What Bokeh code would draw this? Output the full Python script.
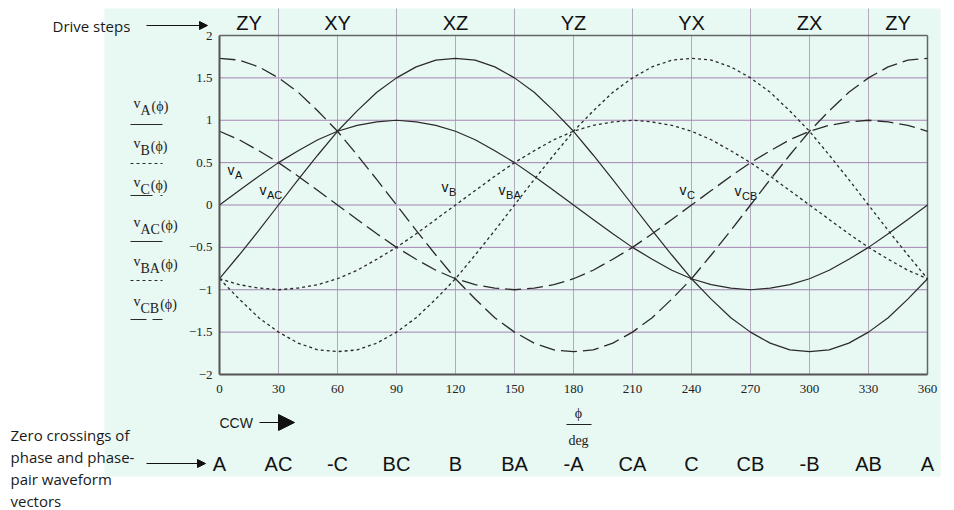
from bokeh.plotting import figure
from bokeh.models import (Range1d, LinearAxis, FixedTicker, Label, LabelSet,
                          ColumnDataSource, Arrow, NormalHead)
from bokeh.core.properties import value
from bokeh.embed import file_html
from bokeh.resources import INLINE

# electrical angle in degrees
phi_deg = list(range(0, 361, 10))

# phase voltages (normalised)
v_a = [0, 0.17, 0.34, 0.5, 0.64, 0.77, 0.87, 0.94, 0.98, 1, 0.98, 0.94, 0.87, 0.77, 0.64, 0.5,
       0.34, 0.17, 0, -0.17, -0.34, -0.5, -0.64, -0.77, -0.87, -0.94, -0.98, -1, -0.98, -0.94,
       -0.87, -0.77, -0.64, -0.5, -0.34, -0.17, 0]
v_b = [-0.87, -0.94, -0.98, -1, -0.98, -0.94, -0.87, -0.77, -0.64, -0.5, -0.34, -0.17, 0, 0.17,
       0.34, 0.5, 0.64, 0.77, 0.87, 0.94, 0.98, 1, 0.98, 0.94, 0.87, 0.77, 0.64, 0.5, 0.34, 0.17,
       0, -0.17, -0.34, -0.5, -0.64, -0.77, -0.87]
v_c = [0.87, 0.77, 0.64, 0.5, 0.34, 0.17, 0, -0.17, -0.34, -0.5, -0.64, -0.77, -0.87, -0.94,
       -0.98, -1, -0.98, -0.94, -0.87, -0.77, -0.64, -0.5, -0.34, -0.17, 0, 0.17, 0.34, 0.5, 0.64,
       0.77, 0.87, 0.94, 0.98, 1, 0.98, 0.94, 0.87]

# phase-pair (line-to-line) voltages
v_ac = [-0.87, -0.59, -0.30, 0, 0.30, 0.59, 0.87, 1.11, 1.33, 1.50, 1.63, 1.71, 1.73, 1.71, 1.63,
        1.50, 1.33, 1.11, 0.87, 0.59, 0.30, 0, -0.30, -0.59, -0.87, -1.11, -1.33, -1.50, -1.63,
        -1.71, -1.73, -1.71, -1.63, -1.50, -1.33, -1.11, -0.87]
v_ba = [-0.87, -1.11, -1.33, -1.50, -1.63, -1.71, -1.73, -1.71, -1.63, -1.50, -1.33, -1.11, -0.87,
        -0.59, -0.30, 0, 0.30, 0.59, 0.87, 1.11, 1.33, 1.50, 1.63, 1.71, 1.73, 1.71, 1.63, 1.50,
        1.33, 1.11, 0.87, 0.59, 0.30, 0, -0.30, -0.59, -0.87]
v_cb = [1.73, 1.71, 1.63, 1.50, 1.33, 1.11, 0.87, 0.59, 0.30, 0, -0.30, -0.59, -0.87, -1.11, -1.33,
        -1.50, -1.63, -1.71, -1.73, -1.71, -1.63, -1.50, -1.33, -1.11, -0.87, -0.59, -0.30, 0,
        0.30, 0.59, 0.87, 1.11, 1.33, 1.50, 1.63, 1.71, 1.73]

# drive steps (commutation band above the plot)
step_names = ["ZY", "XY", "XZ", "YZ", "YX", "ZX", "ZY"]
step_centers = [15, 60, 120, 180, 240, 300, 345]
step_edges = [30, 90, 150, 210, 270, 330]

# zero crossings of the phase and phase-pair vectors
crossing_deg = [0, 30, 60, 90, 120, 150, 180, 210, 240, 270, 300, 330, 360]
crossing_names = ["A", "AC", "-C", "BC", "B", "BA", "-A", "CA", "C", "CB", "-B", "AB", "A"]

# in-plot curve tags
tag_x = [4.1, 20.3, 112.9, 141.9, 233.9, 261.9]
tag_y = [0.41, 0.18, 0.21, 0.18, 0.18, 0.17]
tag_sub = ["A", "AC", "B", "BA", "C", "CB"]

x_ticks = [0, 30, 60, 90, 120, 150, 180, 210, 240, 270, 300, 330, 360]
y_ticks = [-2, -1.5, -1, -0.5, 0, 0.5, 1, 1.5, 2]
y_tick_labels = ["−2", "−1.5", "−1", "−0.5", "0", "0.5", "1", "1.5", "2"]
v_grid_x = [30, 60, 90, 120, 150, 180, 210, 240, 270, 300, 330]
h_grid_y = [-1.5, -1, -0.5, 0, 0.5, 1, 1.5]

TEAL = "#e8f8f2"
INK = "#2a2a2a"
HGRID = "#a585b2"
VGRID = "#b2a9bd"
BOX = "#666666"
SERIF = "Liberation Serif"
SANS = "Liberation Sans"
NOTE_FONT = "Open Sans"

W, H = 954, 510
# plot box in pixels: 0..360 deg spans x 219..927, -2..2 spans y 374..35
PX_DEG = (927 - 219) / 360
PX_UNIT = (374 - 35) / 4


def cx(px):
    return (px - 219) / PX_DEG


def cy(py):
    return 2 - (py - 35) / PX_UNIT


p = figure(width=W, height=H, x_range=Range1d(cx(0), cx(W)), y_range=Range1d(cy(H), cy(0)),
           output_backend="svg", toolbar_location=None, min_border=0,
           x_axis_location=None, y_axis_location=None,
           background_fill_color="white", border_fill_color="white", outline_line_color=None)
p.xgrid.visible = False
p.ygrid.visible = False

# pale panel behind the chart and its annotations
p.quad(left=cx(104), right=cx(940), top=cy(8), bottom=cy(476), fill_color=TEAL, line_color=None)

# grid and drive-step dividers
p.segment(x0=v_grid_x, y0=-2, x1=v_grid_x, y1=2, line_color=VGRID, line_width=1)
p.segment(x0=0, y0=h_grid_y, x1=360, y1=h_grid_y, line_color=HGRID, line_width=1)
p.segment(x0=step_edges, y0=2, x1=step_edges, y1=cy(8), line_color=VGRID, line_width=1)

# top and right edges of the plot box
p.segment(x0=[0, 360], y0=[2, 2], x1=[360, 360], y1=[2, -2], line_color=BOX, line_width=1.5)

# axes
xa = LinearAxis(fixed_location=-2, bounds=(0, 360), ticker=FixedTicker(ticks=x_ticks))
ya = LinearAxis(fixed_location=0, bounds=(-2, 2), ticker=FixedTicker(ticks=y_ticks))
ya.major_label_overrides = {float(t): s for t, s in zip(y_ticks, y_tick_labels)}
for ax in (xa, ya):
    ax.axis_line_color = "#555555"
    ax.axis_line_width = 2
    ax.major_tick_out = 0
    ax.major_tick_in = 0
    ax.minor_tick_out = 0
    ax.minor_tick_in = 0
    ax.major_label_text_font = SERIF
    ax.major_label_text_font_size = "13px"
    ax.major_label_text_color = "#222222"
xa.major_label_standoff = 10
ya.major_label_standoff = 7
p.add_layout(xa, "below")
p.add_layout(ya, "left")

# waveforms
p.line(phi_deg, v_a, line_color=INK, line_width=1.2)
p.line(phi_deg, v_b, line_color=INK, line_width=1.3, line_dash="3 3")
p.line(phi_deg, v_c, line_color=INK, line_width=1.3, line_dash="16 6")
p.line(phi_deg, v_ac, line_color=INK, line_width=1.2)
p.line(phi_deg, v_ba, line_color=INK, line_width=1.3, line_dash="3 3")
p.line(phi_deg, v_cb, line_color=INK, line_width=1.3, line_dash="16 6")

# curve tags
tags = ColumnDataSource(dict(x=tag_x, y=tag_y, v=["v"] * len(tag_sub), sub=tag_sub))
p.add_layout(LabelSet(x="x", y="y", text="v", source=tags, text_font=value(SANS),
                      text_font_size="14px", text_baseline="middle", text_align="left",
                      text_color="#111111"))
p.add_layout(LabelSet(x="x", y="y", text="sub", source=tags, x_offset=7.5, y_offset=-5,
                      text_font=value(SANS), text_font_size="11px", text_baseline="middle",
                      text_align="left", text_color="#111111"))

# drive-step band
steps = ColumnDataSource(dict(x=step_centers, name=step_names))
p.add_layout(LabelSet(x="x", y=cy(22), text="name", source=steps, text_font=value(SANS),
                      text_font_size="20px", text_align="center", text_baseline="middle",
                      text_color="#111111"))

# zero-crossing row
cross = ColumnDataSource(dict(x=crossing_deg, name=crossing_names))
p.add_layout(LabelSet(x="x", y=cy(463), text="name", source=cross, text_font=value(SANS),
                      text_font_size="20px", text_align="center", text_baseline="middle",
                      text_color="#111111"))


def px_text(x, y, text, font, size, align="left", baseline="middle", color="#1a1a1a"):
    p.add_layout(Label(x=cx(x), y=cy(y), text=text, text_font=font, text_font_size=size,
                       text_align=align, text_baseline=baseline, text_color=color))


def px_line(x0, x1, y, dash="solid", width=1.2, color="#111111", head=None):
    end = None
    if head:
        end = NormalHead(size=head, fill_color=color, line_color=color, line_width=1)
    p.add_layout(Arrow(x_start=cx(x0), y_start=cy(y), x_end=cx(x1), y_end=cy(y),
                       line_color=color, line_width=width, line_dash=dash, end=end))


# annotations around the chart
px_text(52, 25, "Drive steps", NOTE_FONT, "15px")
px_line(146, 207, 25, head=8)
notes = ["Zero crossings of", "phase and phase-", "pair waveform", "vectors"]
for i, line in enumerate(notes):
    px_text(10, 434 + 22 * i, line, NOTE_FONT, "15px")
px_line(146, 205, 463, head=8)
px_text(219, 422, "CCW", SANS, "14px")
px_line(259, 294, 422, head=16)

# x axis title: phi over deg
px_text(578, 413, "ϕ", SERIF, "14px", align="center")
px_line(566, 591, 424, width=1, color="#222222")
px_text(578, 440, "deg", SERIF, "14px", align="center")

# legend: expression above its line sample
legend_subs = ["A", "B", "C", "AC", "BA", "CB"]
legend_sub_w = [10.1, 9.3, 9.3, 19.4, 19.4, 18.7]
legend_dash = ["solid", "3 3", "22 8", "solid", "3 3", "16 6"]
legend_sample_y = [124, 163, 195, 241, 280, 319]
for i, sub in enumerate(legend_subs):
    base = 103 + 39.5 * i
    px_text(133, base, "v", SERIF, "14px", baseline="alphabetic", color="#222222")
    px_text(140, base + 7, sub, SERIF, "14px", baseline="alphabetic", color="#222222")
    px_text(141 + legend_sub_w[i], base + 3, "(ϕ)", SERIF, "14px", baseline="alphabetic",
            color="#222222")
    px_line(130, 162, legend_sample_y[i], dash=legend_dash[i], color=INK)

open("out.html", "w").write(file_html(p, INLINE))
